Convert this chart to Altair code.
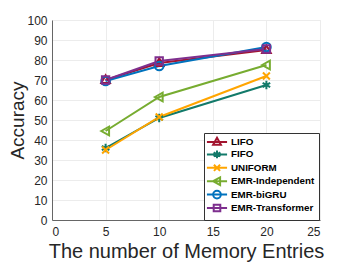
import altair as alt
import pandas as pd

entries = [5, 10, 20]
series_names = ["LIFO", "FIFO", "UNIFORM", "EMR-Independent", "EMR-biGRU", "EMR-Transformer"]
lifo = [70.0, 78.5, 85.0]
fifo = [36.0, 51.0, 67.5]
uniform = [35.0, 51.5, 72.0]
emr_independent = [44.5, 61.5, 77.5]
emr_bigru = [69.5, 77.0, 86.5]
emr_transformer = [70.0, 79.5, 85.5]
x_ticks = [0, 5, 10, 15, 20, 25]
y_ticks = [0, 10, 20, 30, 40, 50, 60, 70, 80, 90, 100]

colors = ["#A2142F", "#127A6A", "#FFA500", "#77AC30", "#0072BD", "#7E2F8E"]

marker_paths = [
    "M0,-1.1L1,0.7L-1,0.7Z",
    "M0,-1L0,1M-0.87,-0.5L0.87,0.5M-0.87,0.5L0.87,-0.5",
    "M-0.8,-0.8L0.8,0.8M-0.8,0.8L0.8,-0.8",
    "M-1,0L0.8,-1L0.8,1Z",
    "M1,0A1,1,0,1,1,-1,0A1,1,0,1,1,1,0Z",
    "M-0.85,-0.85L0.85,-0.85L0.85,0.85L-0.85,0.85Z",
]
legend_paths = ["M-2.6,0L2.6,0" + p for p in marker_paths]

values = [lifo, fifo, uniform, emr_independent, emr_bigru, emr_transformer]
rows = []
for name, vals in zip(series_names, values):
    for e, v in zip(entries, vals):
        rows.append({"entries": e, "accuracy": v, "series": name,
                     "order": series_names.index(name)})
df = pd.DataFrame(rows)

font = "Liberation Sans"

x_enc = alt.X("entries:Q",
              scale=alt.Scale(domain=[0, 25], nice=False),
              axis=alt.Axis(values=x_ticks, title="The number of Memory Entries",
                            titleFontSize=20, titleFontWeight="normal",
                            titleColor="#262626", titlePadding=4,
                            labelFontSize=12, labelColor="#262626",
                            labelPadding=6))
y_enc = alt.Y("accuracy:Q",
              scale=alt.Scale(domain=[0, 100], nice=False),
              axis=alt.Axis(values=y_ticks, title="Accuracy",
                            titleFontSize=19, titleFontWeight="normal",
                            titleColor="#262626",
                            titleX=-29, titleY=100, titleAngle=270,
                            titleAlign="center", titleBaseline="alphabetic",
                            labelFontSize=12, labelColor="#262626",
                            labelPadding=5))

def color_enc(legend=None):
    return alt.Color("series:N",
                     scale=alt.Scale(domain=series_names, range=colors),
                     legend=legend)

base = alt.Chart(df)

lines = base.mark_line(strokeWidth=2).encode(
    x=x_enc, y=y_enc,
    color=color_enc(),
    order="order:Q",
)

points = base.mark_point(filled=False, strokeWidth=2, size=75, opacity=1).encode(
    x=x_enc, y=y_enc,
    color=color_enc(),
    shape=alt.Shape("series:N",
                    scale=alt.Scale(domain=series_names, range=marker_paths),
                    legend=None),
    order="order:Q",
)

legend = alt.Legend(
    title=None, orient="none", legendX=152, legendY=113,
    labelFont=font, labelFontSize=9.8, labelFontWeight="bold",
    labelColor="#000000", labelOffset=9,
    symbolSize=60, symbolStrokeWidth=2, symbolOffset=4,
    symbolFillColor="transparent",
    rowPadding=-2.6, padding=4,
    strokeColor="#333333", fillColor="#ffffff",
)

legend_layer = base.mark_point(filled=False, strokeWidth=2, size=60, opacity=1).encode(
    x=x_enc, y=y_enc,
    color=alt.Color("series:N",
                    scale=alt.Scale(domain=series_names, range=colors),
                    legend=legend),
    shape=alt.Shape("series:N",
                    scale=alt.Scale(domain=series_names, range=legend_paths),
                    legend=legend),
).transform_filter("datum.entries < 0")

chart = alt.layer(lines, points, legend_layer).resolve_scale(
    color="independent", shape="independent"
).properties(
    width=268, height=200,
    autosize=alt.AutoSizeParams(type="none"),
    padding={"left": 44, "top": 12, "right": 20, "bottom": 44},
).configure(
    font=font,
).configure_view(
    stroke="#e6e6e6", strokeWidth=1,
).configure_axis(
    labelFont=font, titleFont=font,
    gridColor="#ececec", gridWidth=1,
    domainColor="#666666", domainWidth=1,
    ticks=False,
)

chart.save("out.html", embed_options={"renderer": "svg", "actions": False})
